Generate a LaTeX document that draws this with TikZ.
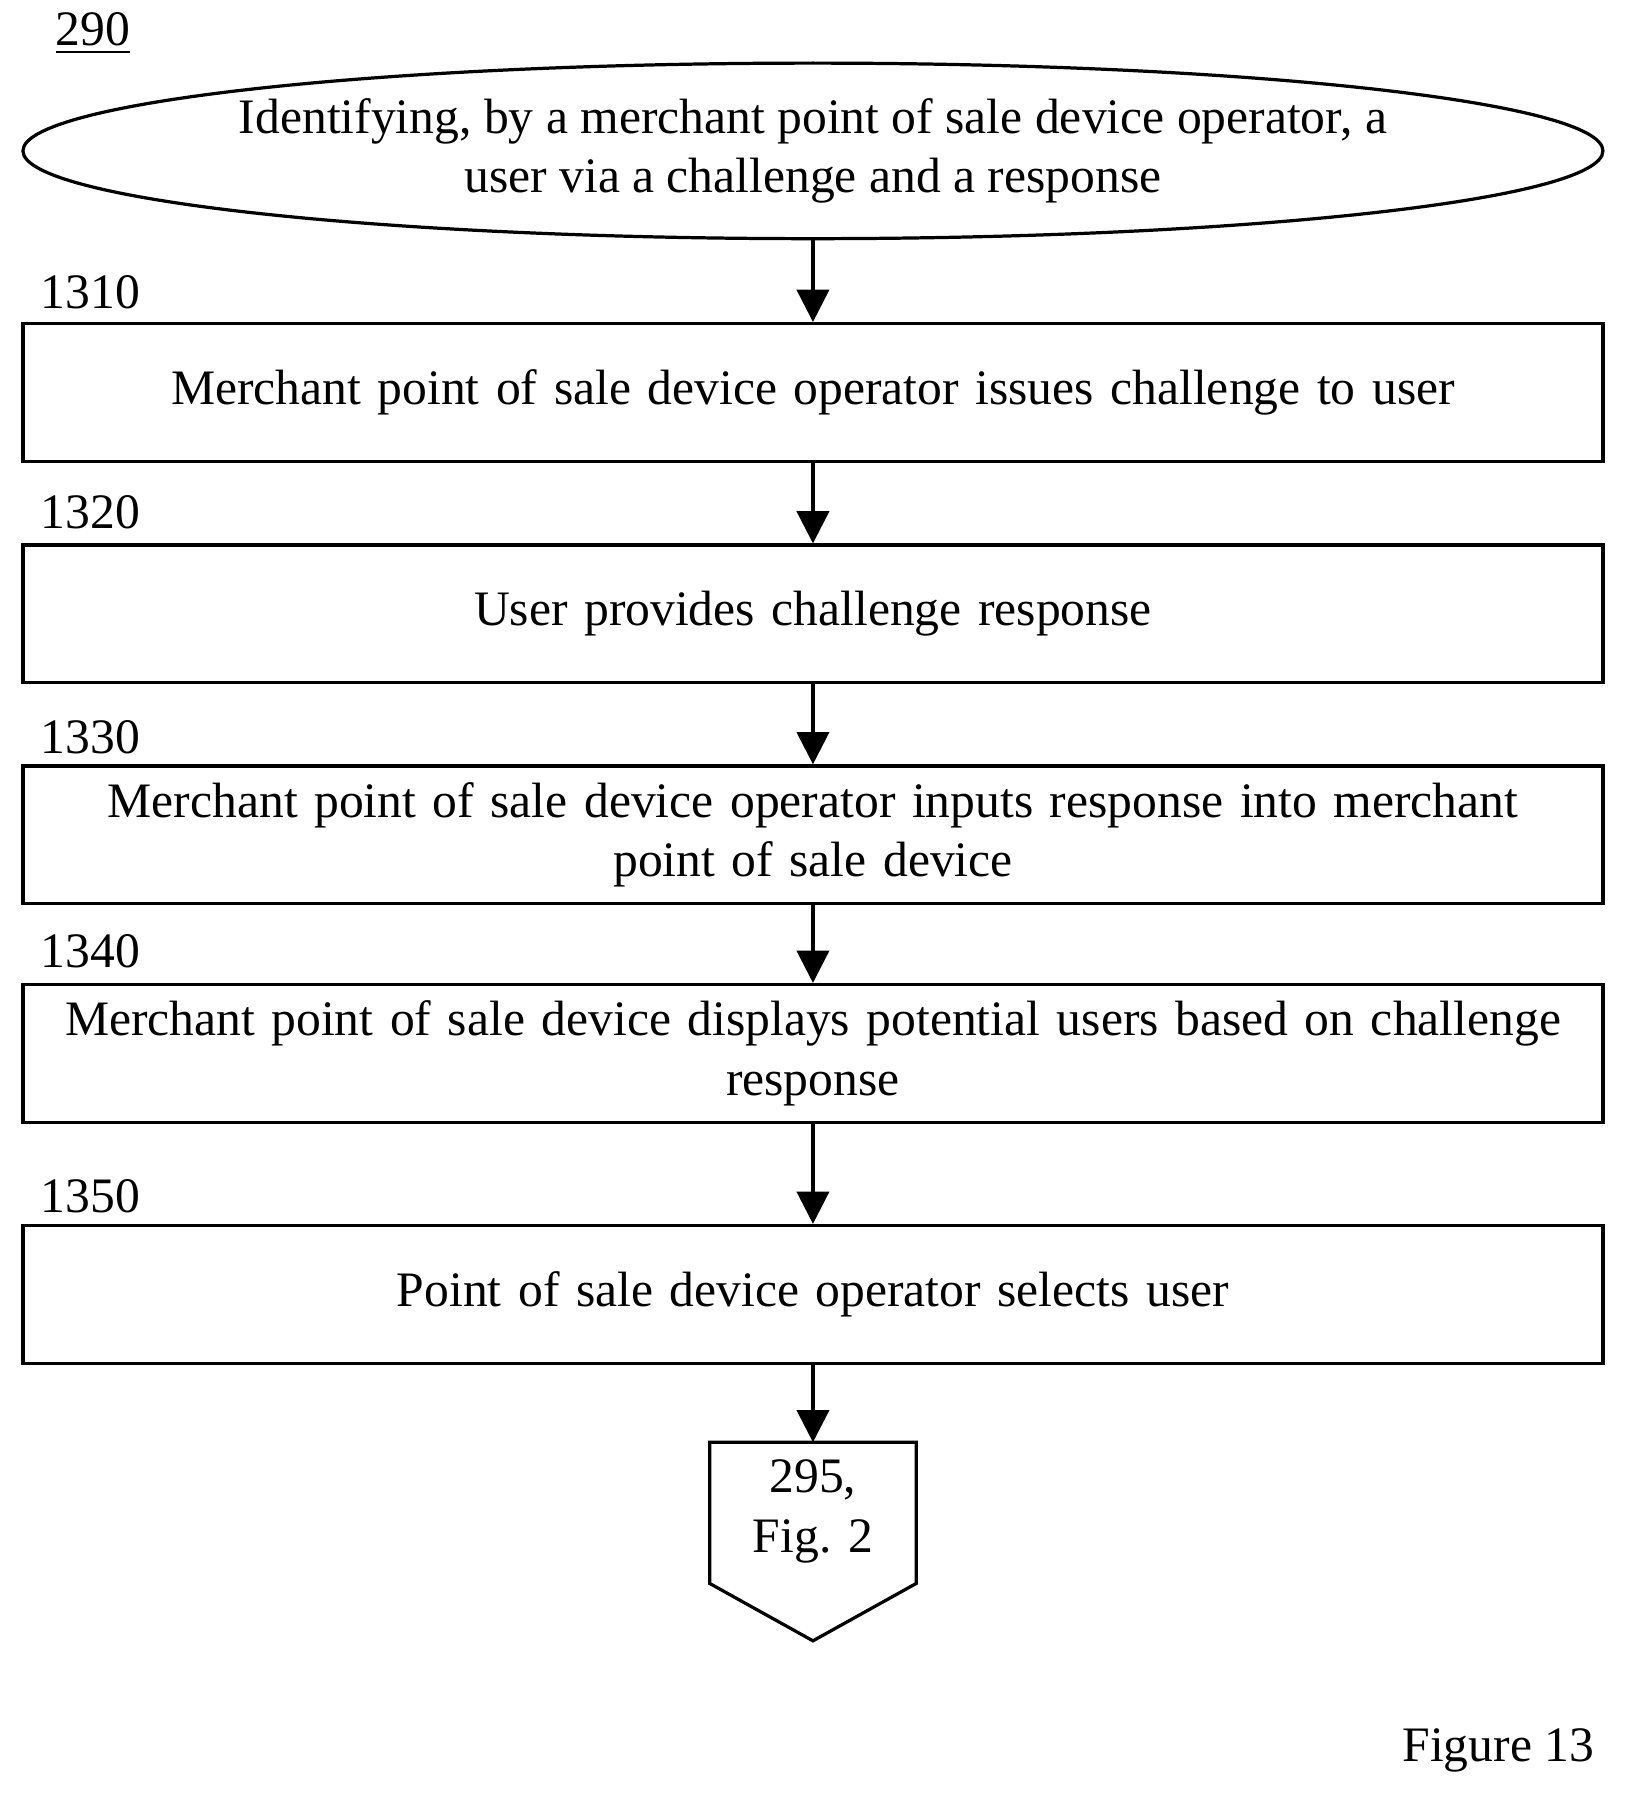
\documentclass[tikz,border=0pt]{standalone}
\usepackage{fontspec}
\setmainfont{Liberation Serif}
\usetikzlibrary{arrows.meta,shapes.geometric,positioning}
\tikzset{
  stepbox/.style={draw,thick,minimum width=13.77cm,minimum height=1.2cm,align=center,text width=13.6cm,inner sep=1pt},
  flow/.style={thick,-{Triangle[length=8pt,width=8pt]}},
  numlbl/.style={anchor=south west,inner sep=0pt}
}
\begin{document}
\begin{tikzpicture}[font=\fontsize{12.3}{14.8}\selectfont]
\useasboundingbox (0,0) rectangle (14.2,-15.67);
%%% start
\node[draw,thick,ellipse,minimum width=13.77cm,minimum height=1.53cm,align=center,inner xsep=-10pt,inner ysep=0pt] (start) at (7.085,-1.315)
  {Identifying, by a merchant point of sale device operator, a\\ user via a challenge and a response};
\node[numlbl] (l290) at (0.48,-0.48) {\underline{290}};
%%% steps
\node[stepbox] (s1310) at (7.085,-3.42) {Merchant point of sale device operator issues challenge to user};
\node[stepbox] (s1320) at (7.085,-5.35) {User provides challenge response};
\node[stepbox] (s1330) at (7.085,-7.275) {Merchant point of sale device operator inputs response into merchant\\ point of sale device};
\node[stepbox] (s1340) at (7.085,-9.18) {Merchant point of sale device displays potential users based on challenge\\ response};
\node[stepbox] (s1350) at (7.085,-11.28) {Point of sale device operator selects user};
\node[numlbl] (l1310) at (0.35,-2.70) {1310};
\node[numlbl] (l1320) at (0.35,-4.62) {1320};
\node[numlbl] (l1330) at (0.35,-6.58) {1330};
\node[numlbl] (l1340) at (0.35,-8.44) {1340};
\node[numlbl] (l1350) at (0.35,-10.58) {1350};
%%% off-page connector
\draw[thick] (6.185,-12.57) -- (7.985,-12.57) -- (7.985,-13.80) -- (7.085,-14.30) -- (6.185,-13.80) -- cycle;
\node[align=center,minimum height=1.2cm,inner sep=0pt] (off) at (7.085,-13.17) {295,\\ Fig. 2};
\coordinate (offtop) at (7.085,-12.57);
\draw[flow] (start) -- (s1310);
\draw[flow] (s1310) -- (s1320);
\draw[flow] (s1320) -- (s1330);
\draw[flow] (s1330) -- (s1340);
\draw[flow] (s1340) -- (s1350);
\draw[flow] (s1350.south) -- (offtop);
\node[anchor=south east,inner sep=0pt] (fig) at (13.9,-15.45) {Figure 13};
\end{tikzpicture}
\end{document}
